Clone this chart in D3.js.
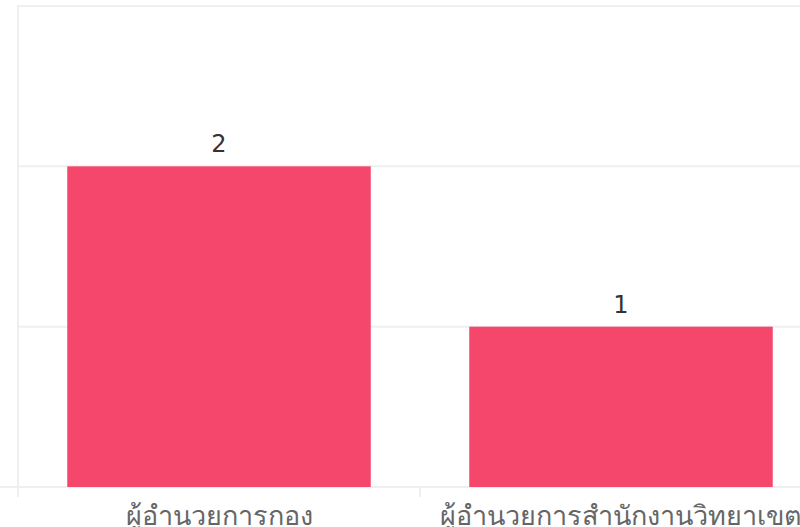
<!DOCTYPE html>
<html><head><meta charset="utf-8">
<script src="https://cdn.jsdelivr.net/npm/d3@7"></script>
<style>html,body{margin:0;padding:0;background:#fff;overflow:hidden}</style>
</head><body>
<svg id="c" width="800" height="527"></svg>
<script>
const categories = ["ผู้อำนวยการกอง", "ผู้อำนวยการสำนักงานวิทยาเขต"];
const values = [2, 1];
const yTicks = [0, 1, 2, 3];

const svg = d3.select("#c");
const x = d3.scaleBand().domain(categories).range([18, 822]).paddingInner(0).paddingOuter(0);
const y = d3.scaleLinear().domain([0, 3]).range([487, 6]);
const barFrac = 0.755;
const gridColor = "#efefef";

// gridlines
svg.append("g").selectAll("line").data(yTicks).join("line")
  .attr("x1", d => d === 0 ? 0 : 18).attr("x2", 800)
  .attr("y1", d => y(d)).attr("y2", d => y(d))
  .attr("stroke", gridColor).attr("stroke-width", 2);
// left axis line
svg.append("line").attr("x1", 18).attr("x2", 18).attr("y1", 5).attr("y2", 497)
  .attr("stroke", gridColor).attr("stroke-width", 2);
// x separators
svg.append("g").selectAll("line").data(categories.slice(1)).join("line")
  .attr("x1", d => x(d)).attr("x2", d => x(d)).attr("y1", 487).attr("y2", 497)
  .attr("stroke", gridColor).attr("stroke-width", 2);

const bw = x.bandwidth() * barFrac;
svg.append("g").selectAll("rect").data(categories).join("rect")
  .attr("x", (d) => x(d) + (x.bandwidth() - bw) / 2)
  .attr("width", bw)
  .attr("y", (d, i) => y(values[i]))
  .attr("height", (d, i) => y(0) - y(values[i]))
  .attr("fill", "#f5476b");

svg.append("g").selectAll("text").data(categories).join("text")
  .attr("x", d => x(d) + x.bandwidth() / 2)
  .attr("y", (d, i) => y(values[i]) - 14)
  .attr("text-anchor", "middle")
  .attr("font-family", "'DejaVu Sans', sans-serif")
  .attr("font-size", 24)
  .attr("fill", "#333")
  .text((d, i) => values[i]);

svg.append("g").selectAll("text").data(categories).join("text")
  .attr("x", d => x(d) + x.bandwidth() / 2)
  .attr("y", 525)
  .attr("text-anchor", "middle")
  .attr("font-family", "Tahoma, 'Noto Sans', sans-serif")
  .attr("font-size", 27)
  .attr("fill", "#666")
  .text(d => d);
</script>
</body></html>
